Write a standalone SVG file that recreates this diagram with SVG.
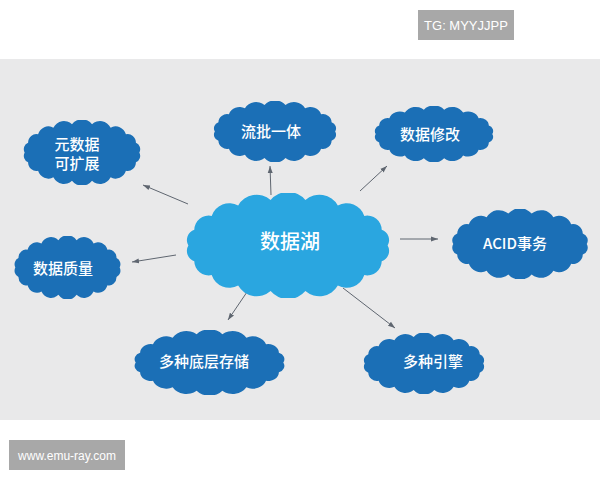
<svg xmlns="http://www.w3.org/2000/svg" xmlns:xlink="http://www.w3.org/1999/xlink" width="600" height="480" viewBox="0 0 600 480">
<defs>
<style>
.dark{fill:#1b6fb6}
.light{fill:#2aa6e0}
.t{font-family:"Noto Sans CJK SC","Liberation Sans",sans-serif;fill:#ffffff;text-anchor:middle;dominant-baseline:central;font-size:15px;font-weight:500}
.big{font-size:20px}
.wm{font-family:"Liberation Sans",sans-serif;fill:#ffffff;text-anchor:middle;dominant-baseline:central}
.c line{stroke:#5f6670;stroke-width:1;marker-end:url(#ah)}
</style>
<symbol id="cloud" viewBox="0 0 100 50" preserveAspectRatio="none">
<path d="M3,25 A5.2,5.2 0 0 1 5.8,17.5 A6.8,6.8 0 0 1 14,10.9 A8.8,8.8 0 0 1 26.5,5.9 A10,10 0 0 1 41.8,3.3 A10.7,10.7 0 0 1 58.2,3.3 A10,10 0 0 1 73.5,5.9 A8.8,8.8 0 0 1 86,10.9 A6.8,6.8 0 0 1 94.2,17.5 A5.2,5.2 0 0 1 97,25 A5.2,5.2 0 0 1 94.2,32.5 A6.8,6.8 0 0 1 86,39.1 A8.8,8.8 0 0 1 73.5,44.1 A10,10 0 0 1 58.2,46.7 A10.7,10.7 0 0 1 41.8,46.7 A10,10 0 0 1 26.5,44.1 A8.8,8.8 0 0 1 14,39.1 A6.8,6.8 0 0 1 5.8,32.5 A5.2,5.2 0 0 1 3,25 Z"/>
</symbol>
<marker id="ah" markerWidth="8" markerHeight="8" refX="7" refY="4" orient="auto" markerUnits="userSpaceOnUse">
<path d="M0,1.5 L7,4 L0,6.5 Z" fill="#5f6670"/>
</marker>
</defs>
<rect width="600" height="480" fill="#ffffff"/>
<rect x="0" y="59" width="600" height="361" fill="#e9e9ea"/>

<g id="wm-tg">
<rect x="418" y="10" width="96" height="30" fill="#a8a8a8"/>
<text class="wm" x="466" y="25.5" font-size="13">TG: MYYJJPP</text>
</g>
<g id="wm-www">
<rect x="9" y="440" width="116" height="30" fill="#a8a8a8"/>
<text class="wm" x="67" y="455.5" font-size="12">www.emu-ray.com</text>
</g>

<g class="c" id="connectors">
<line x1="271" y1="195" x2="270" y2="166"/>
<line x1="360" y1="191" x2="387" y2="166"/>
<line x1="400" y1="239" x2="438" y2="239"/>
<line x1="188" y1="204" x2="143" y2="185"/>
<line x1="176" y1="255" x2="132" y2="262"/>
<line x1="247" y1="292" x2="228" y2="320"/>
<line x1="343" y1="288" x2="395" y2="328"/>
</g>

<g id="center">
<use href="#cloud" x="182" y="193" width="212" height="105" class="light"/>
<text class="t big" x="290" y="240">数据湖</text>
</g>
<g id="n-liupi">
<use href="#cloud" x="211" y="101" width="128" height="61" class="dark"/>
<text class="t" x="271" y="130">流批一体</text>
</g>
<g id="n-xiugai">
<use href="#cloud" x="372" y="106" width="124" height="56" class="dark"/>
<text class="t" x="430" y="133">数据修改</text>
</g>
<g id="n-acid">
<use href="#cloud" x="449" y="209" width="142" height="70" class="dark"/>
<text class="t" x="515" y="242">ACID事务</text>
</g>
<g id="n-meta">
<use href="#cloud" x="21" y="120" width="122" height="65" class="dark"/>
<text class="t" x="77" y="143">元数据</text>
<text class="t" x="77" y="162">可扩展</text>
</g>
<g id="n-quality">
<use href="#cloud" x="12" y="236" width="111" height="63" class="dark"/>
<text class="t" x="63" y="267">数据质量</text>
</g>
<g id="n-storage">
<use href="#cloud" x="131" y="330" width="157" height="65" class="dark"/>
<text class="t" x="204" y="360">多种底层存储</text>
</g>
<g id="n-engine">
<use href="#cloud" x="361" y="333" width="126" height="61" class="dark"/>
<text class="t" x="433" y="360">多种引擎</text>
</g>
</svg>
